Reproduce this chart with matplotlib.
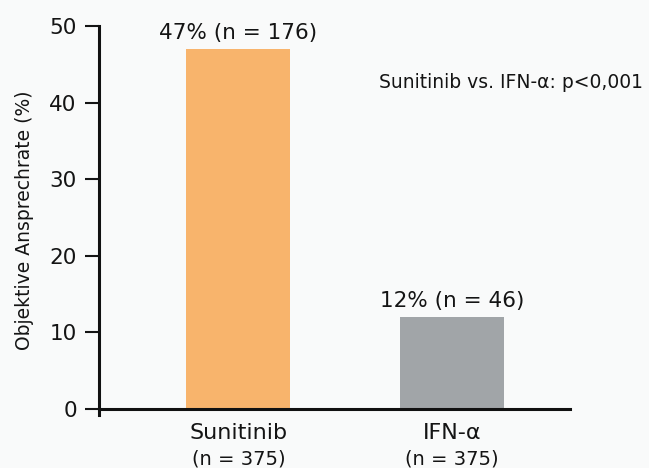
import matplotlib
matplotlib.use('Agg')
import matplotlib.pyplot as plt

plt.rcParams['font.family'] = ['DejaVu Sans']

# data
groups = ['Sunitinib', 'IFN-α']
group_n = ['(n = 375)', '(n = 375)']
rates = [47, 12]
responders = [176, 46]
bar_colors = ['#f8b46c', '#a1a5a8']
p_text = 'Sunitinib vs. IFN-α: p<0,001'

bg = '#f9fafa'
fig = plt.figure(figsize=(6.49, 4.68), dpi=100, facecolor=bg)
ax = fig.add_axes([0.1525, 0.113, 0.7255, 0.831], facecolor=bg)

x = list(range(len(groups)))
ax.bar(x, rates, width=0.487, color=bar_colors, zorder=2)

for xi, r, n in zip(x, rates, responders):
    ax.text(xi, r + 1.3, '%d%% (n = %d)' % (r, n), ha='center', va='baseline',
            fontsize=15.5, color='#141414')

ax.set_xlim(-0.653, 1.553)
ax.set_ylim(-0.8, 50)
ax.set_yticks([0, 10, 20, 30, 40, 50])
ax.tick_params(axis='y', labelsize=15.5, length=10, width=1.5, pad=6, colors='#141414')
ax.set_xticks([])

for s in ['top', 'right']:
    ax.spines[s].set_visible(False)
ax.spines['bottom'].set_position(('data', 0))
for s in ['left', 'bottom']:
    ax.spines[s].set_linewidth(2.2)
    ax.spines[s].set_color('#111111')

ax.set_ylabel('Objektive Ansprechrate (%)', fontsize=13.5, color='#141414')
ax.yaxis.set_label_coords(-0.138, 0.5)

for xi, g, gn in zip(x, groups, group_n):
    ax.text(xi, -3.1, g, ha='center', va='center', fontsize=16, color='#141414')
    ax.text(xi, -6.5, gn, ha='center', va='center', fontsize=14, color='#141414')

ax.text(0.658, 42.7, p_text, ha='left', va='center', fontsize=13.5, color='#141414')

plt.savefig('out.png', dpi=100, facecolor=bg)
